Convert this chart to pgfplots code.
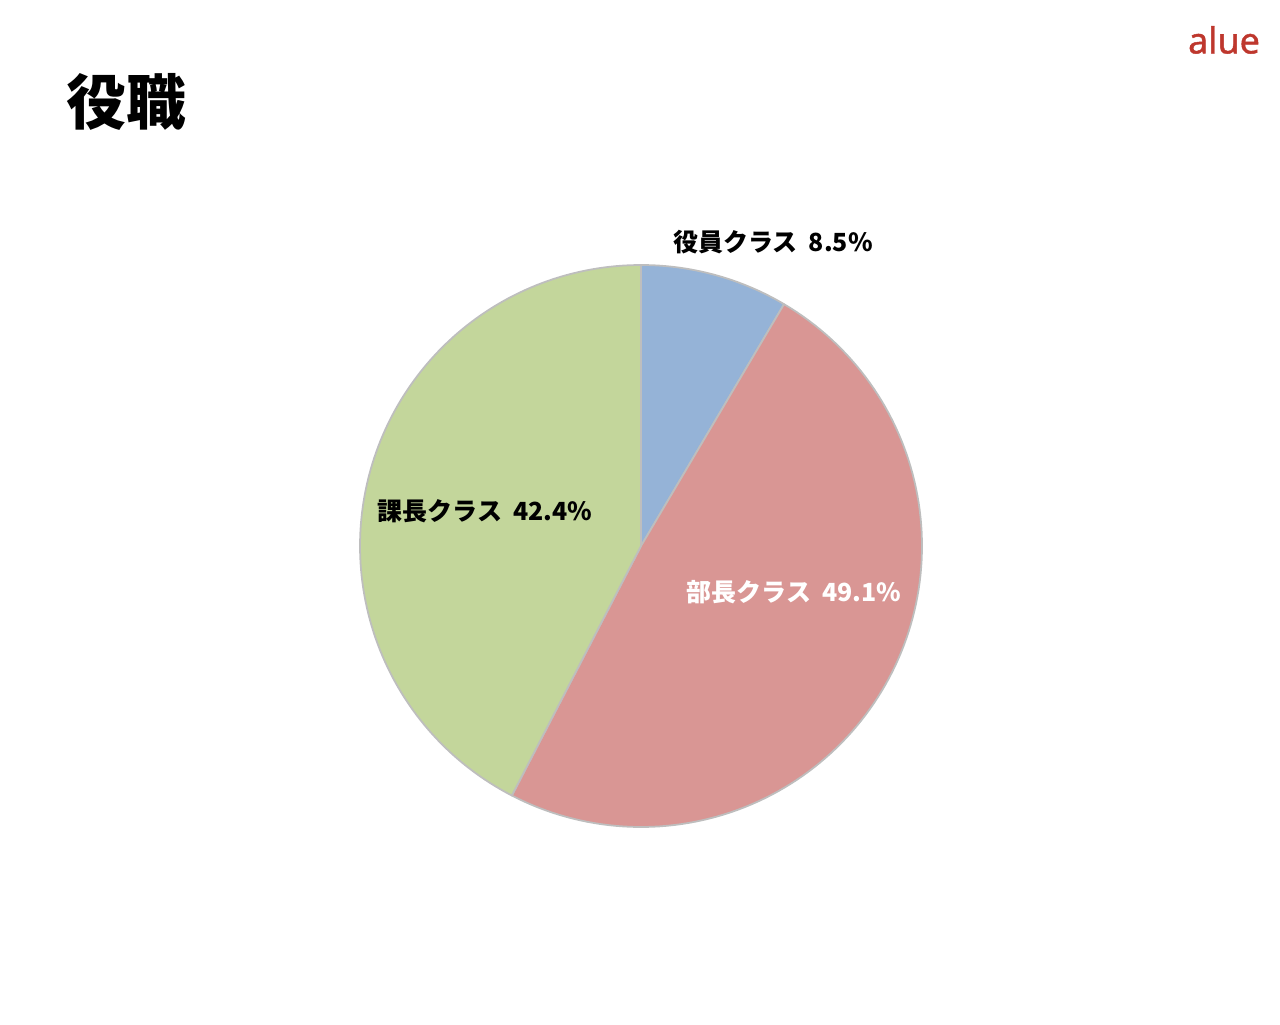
\documentclass[border=0pt]{standalone}
\usepackage{pgfplots}
\pgfplotsset{compat=1.18}
\usepackage{fontspec}
\setmainfont{Noto Sans CJK JP}
\newfontfamily\logofont[FakeBold=1.2]{Noto Sans}
\definecolor{sliceBlue}{RGB}{149,179,215}
\definecolor{sliceRed}{RGB}{217,150,148}
\definecolor{sliceGreen}{RGB}{195,214,155}
\definecolor{edgeGray}{RGB}{190,190,190}
\definecolor{logoRed}{RGB}{190,55,45}
\begin{document}
\begin{tikzpicture}
\path[use as bounding box] (0,0) rectangle (12.8,10.24);
% shares in percent, clockwise from the top
\pgfmathsetmacro{\pA}{8.5}
\pgfmathsetmacro{\pB}{49.1}
\pgfmathsetmacro{\pC}{42.4}
\pgfmathsetmacro{\aA}{90}
\pgfmathsetmacro{\aB}{\aA-3.6*\pA}
\pgfmathsetmacro{\aC}{\aB-3.6*\pB}
\pgfmathsetmacro{\aD}{\aC-3.6*\pC}
\tikzset{lbl/.style={font=\bfseries\fontsize{7.1pt}{8pt}\selectfont}}
\begin{axis}[
  at={(6.41cm,4.78cm)}, anchor=center,
  width=5.62cm, height=5.62cm, scale only axis,
  xmin=-1, xmax=1, ymin=-1, ymax=1,
  hide axis, clip=false,
  every axis plot/.append style={draw=edgeGray, line width=0.5pt, samples=120, variable=\t, line join=round},
]
\addplot[fill=sliceBlue, domain=\aB:\aA] ({cos(\t)},{sin(\t)}) -- (axis cs:0,0) -- cycle;
\addplot[fill=sliceRed, domain=\aC:\aB] ({cos(\t)},{sin(\t)}) -- (axis cs:0,0) -- cycle;
\addplot[fill=sliceGreen, domain=\aD:\aC] ({cos(\t)},{sin(\t)}) -- (axis cs:0,0) -- cycle;
\end{axis}
\node[lbl] at (7.73,7.82) {役員クラス\hspace{0.45em}8.5\%};
\node[lbl] at (4.85,5.13) {課長クラス\hspace{0.45em}42.4\%};
\node[lbl, text=white] at (7.94,4.32) {部長クラス\hspace{0.45em}49.1\%};
\node[anchor=west, inner sep=0pt, font=\bfseries\fontsize{17pt}{20pt}\selectfont] at (0.66,9.22) {役職};
\node[font=\logofont\fontsize{10.2pt}{12pt}\selectfont, text=logoRed] at (12.24,9.84) {alue};
\end{tikzpicture}
\end{document}
